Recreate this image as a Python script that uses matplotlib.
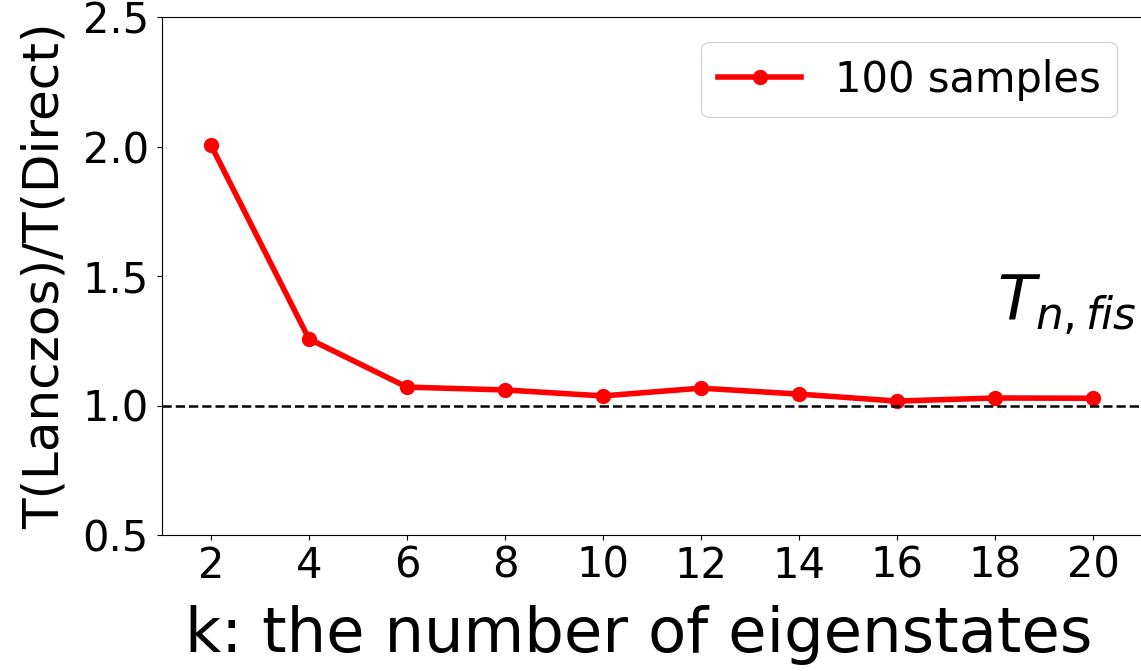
import numpy as np
import matplotlib.pyplot as plt

# 本征态个数
k = [2, 4, 6, 8, 10, 12, 14, 16, 18, 20]
# 时间比 T(Lanczos)/T(Direct)
ratio = [2.005, 1.257, 1.071, 1.060, 1.037, 1.067, 1.044, 1.017, 1.029, 1.028]

fig = plt.figure(figsize=(11.41, 6.71), dpi=100)
ax = fig.add_axes([162/1141, 136/671, 980/1141, 518/671])

ax.plot(k, ratio, 'r-o', lw=4, ms=10, label='100 samples')
ax.axhline(1.0, color='k', ls='--', lw=1.8)

ax.set_xlim(1, 21)
ax.set_ylim(0.5, 2.5)
ax.set_xticks(k)
ax.set_yticks([0.5, 1.0, 1.5, 2.0, 2.5])
ax.tick_params(labelsize=30)
ax.tick_params(axis='y', pad=6)
ax.set_xlabel('k: the number of eigenstates', fontsize=45, labelpad=10)
ax.xaxis.set_label_coords(0.486, -0.135)
ax.set_ylabel('T(Lanczos)/T(Direct)', fontsize=36, labelpad=10)
ax.text(18.05, 1.33, r'$T_{n,fis}$', fontsize=45)
ax.legend(loc='upper right', fontsize=30, borderaxespad=0.6)

fig.savefig('out.png', dpi=100)
